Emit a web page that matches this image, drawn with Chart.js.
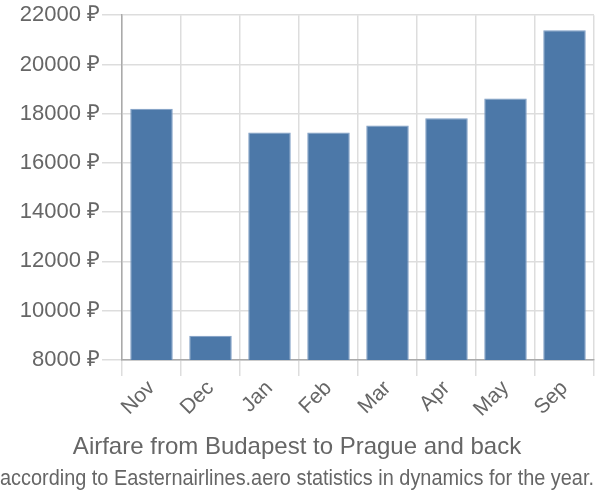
<!DOCTYPE html>
<html>
<head>
<meta charset="utf-8">
<script src="https://cdn.jsdelivr.net/npm/chart.js@4.4.0/dist/chart.umd.min.js"></script>
<style>
  body { margin: 0; background: #fff; }
  #wrap { width: 600px; height: 500px; }
</style>
</head>
<body>
<div id="wrap"><canvas id="airfare"></canvas></div>
<script>
const meses = ["Nov", "Dec", "Jan", "Feb", "Mar", "Apr", "May", "Sep"];
const precios = [18200, 8980, 17240, 17240, 17520, 17810, 18620, 21390];
const ticksY = [8000, 10000, 12000, 14000, 16000, 18000, 20000, 22000];

const ctx = document.getElementById("airfare").getContext("2d");

new Chart(ctx, {
    type: "bar",
    data: {
        labels: meses,
        datasets: [{
            data: precios,
            backgroundColor: "#4c78a8",
            borderColor: "#7b9cc4",
            borderWidth: 1
        }]
    },
    options: {
        responsive: true,
        maintainAspectRatio: false,
        animation: false,
        layout: { padding: { left: 0, right: 6, top: 4, bottom: 0 } },
        scales: {
            x: {
                grid: { color: "#dddddd", lineWidth: 1.5, tickLength: 16 },
                border: { color: "#aaaaaa", width: 1.5 },
                ticks: { color: "#666", font: { family: "Liberation Sans", size: 21 }, maxRotation: 45, minRotation: 45, padding: 0 }
            },
            y: {
                min: ticksY[0],
                max: ticksY[ticksY.length - 1],
                afterBuildTicks: axis => { axis.ticks = ticksY.map(v => ({ value: v })); },
                afterFit: axis => { axis.width = 122; },
                grid: { color: "#dddddd", lineWidth: 1.5, tickLength: 20 },
                border: { color: "#aaaaaa", width: 1.5 },
                ticks: {
                    color: "#666",
                    font: { family: "Liberation Sans", size: 22 },
                    padding: 2,
                    callback: v => v + " ₽"
                }
            }
        },
        plugins: {
            legend: { display: false },
            tooltip: { enabled: false },
            title: {
                display: true,
                position: "bottom",
                text: "Airfare from Budapest to Prague and back",
                color: "#666",
                font: { family: "Liberation Sans", size: 24, weight: "normal" },
                padding: { top: 11, bottom: 2 },
                weight: 1000
            },
            subtitle: {
                display: true,
                position: "bottom",
                text: "according to Easternairlines.aero statistics in dynamics for the year.",
                color: "#666",
                font: { family: "Liberation Sans", size: 22 },
                padding: { top: 2, bottom: 8 },
                weight: 2000
            }
        }
    }
});
</script>
</body>
</html>
